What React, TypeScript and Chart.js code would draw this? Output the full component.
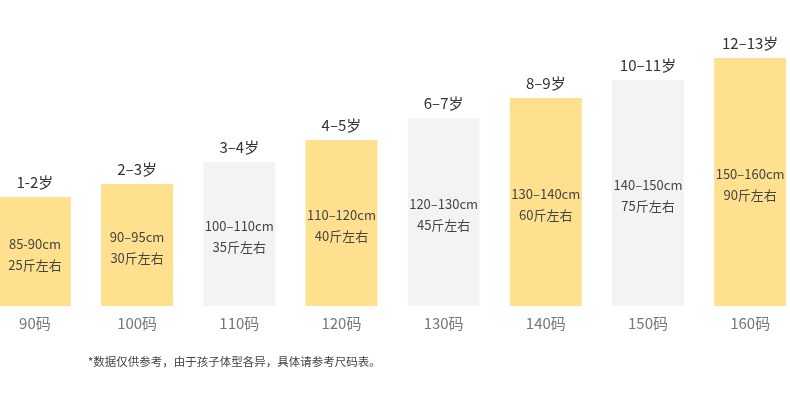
import React, { useEffect, useRef } from "react";
import { Chart, registerables } from "chart.js";

Chart.register(...registerables);

const sizeLabels = ["90码", "100码", "110码", "120码", "130码", "140码", "150码", "160码"];
const ageLabels = ["1-2岁", "2–3岁", "3–4岁", "4–5岁", "6–7岁", "8–9岁", "10–11岁", "12–13岁"];
const heightLabels = ["85-90cm", "90–95cm", "100–110cm", "110–120cm", "120–130cm", "130–140cm", "140–150cm", "150–160cm"];
const weightLabels = ["25斤左右", "30斤左右", "35斤左右", "40斤左右", "45斤左右", "60斤左右", "75斤左右", "90斤左右"];
const barValues = [109, 122, 144, 166, 188, 208, 226, 248];
const barColors = ["#FFE08F", "#FFE08F", "#F3F3F3", "#FFE08F", "#F3F3F3", "#FFE08F", "#F3F3F3", "#FFE08F"];
const footnote = "*数据仅供参考，由于孩子体型各异，具体请参考尺码表。";

const FONT = '"Noto Sans CJK SC", "Noto Sans", sans-serif';

const textPlugin = {
  id: "sizeText",
  afterDatasetsDraw(chart: any) {
    const ctx = chart.ctx;
    const meta = chart.getDatasetMeta(0);
    ctx.save();
    ctx.textAlign = "center";
    ctx.textBaseline = "middle";
    meta.data.forEach((bar: any, i: number) => {
      const x = bar.x;
      const top = bar.y;
      const base = bar.base;
      ctx.fillStyle = "#333333";
      ctx.font = `15px ${FONT}`;
      ctx.fillText(ageLabels[i], x, top - 14.5);
      const mid = (top + base) / 2 + 3;
      ctx.fillStyle = "#444444";
      ctx.font = `13px ${FONT}`;
      ctx.fillText(heightLabels[i], x, mid - 10.5);
      ctx.fillText(weightLabels[i], x, mid + 10.5);
      ctx.fillStyle = "#777777";
      ctx.font = `15px ${FONT}`;
      ctx.fillText(sizeLabels[i], x, base + 17);
    });
    ctx.textAlign = "left";
    ctx.fillStyle = "#444444";
    ctx.font = `11.5px ${FONT}`;
    ctx.fillText(footnote, 88, 362);
    ctx.restore();
  },
};

export default function App() {
  const ref = useRef<HTMLCanvasElement | null>(null);
  useEffect(() => {
    if (!ref.current) return;
    const chart = new Chart(ref.current, {
      type: "bar",
      data: {
        datasets: [
          {
            data: barValues.map((v, i) => ({ x: i, y: v })),
            backgroundColor: barColors,
            borderWidth: 0,
            barPercentage: 0.704,
            categoryPercentage: 1,
          },
        ],
      },
      options: {
        animation: false,
        responsive: false,
        devicePixelRatio: 1,
        layout: { padding: { top: 0, bottom: 90, left: 0, right: 0 } },
        plugins: { legend: { display: false }, tooltip: { enabled: false } },
        scales: {
          x: { type: "linear", display: false, offset: false, grid: { offset: false }, min: -0.342, max: 7.39 },
          y: { display: false, min: 0, max: 306 },
        },
      },
      plugins: [textPlugin],
    });
    return () => chart.destroy();
  }, []);
  return (
    <div style={{ position: "absolute", left: 0, top: 0, width: 790, height: 396, background: "#fff" }}>
      <canvas ref={ref} width={790} height={396} />
    </div>
  );
}
